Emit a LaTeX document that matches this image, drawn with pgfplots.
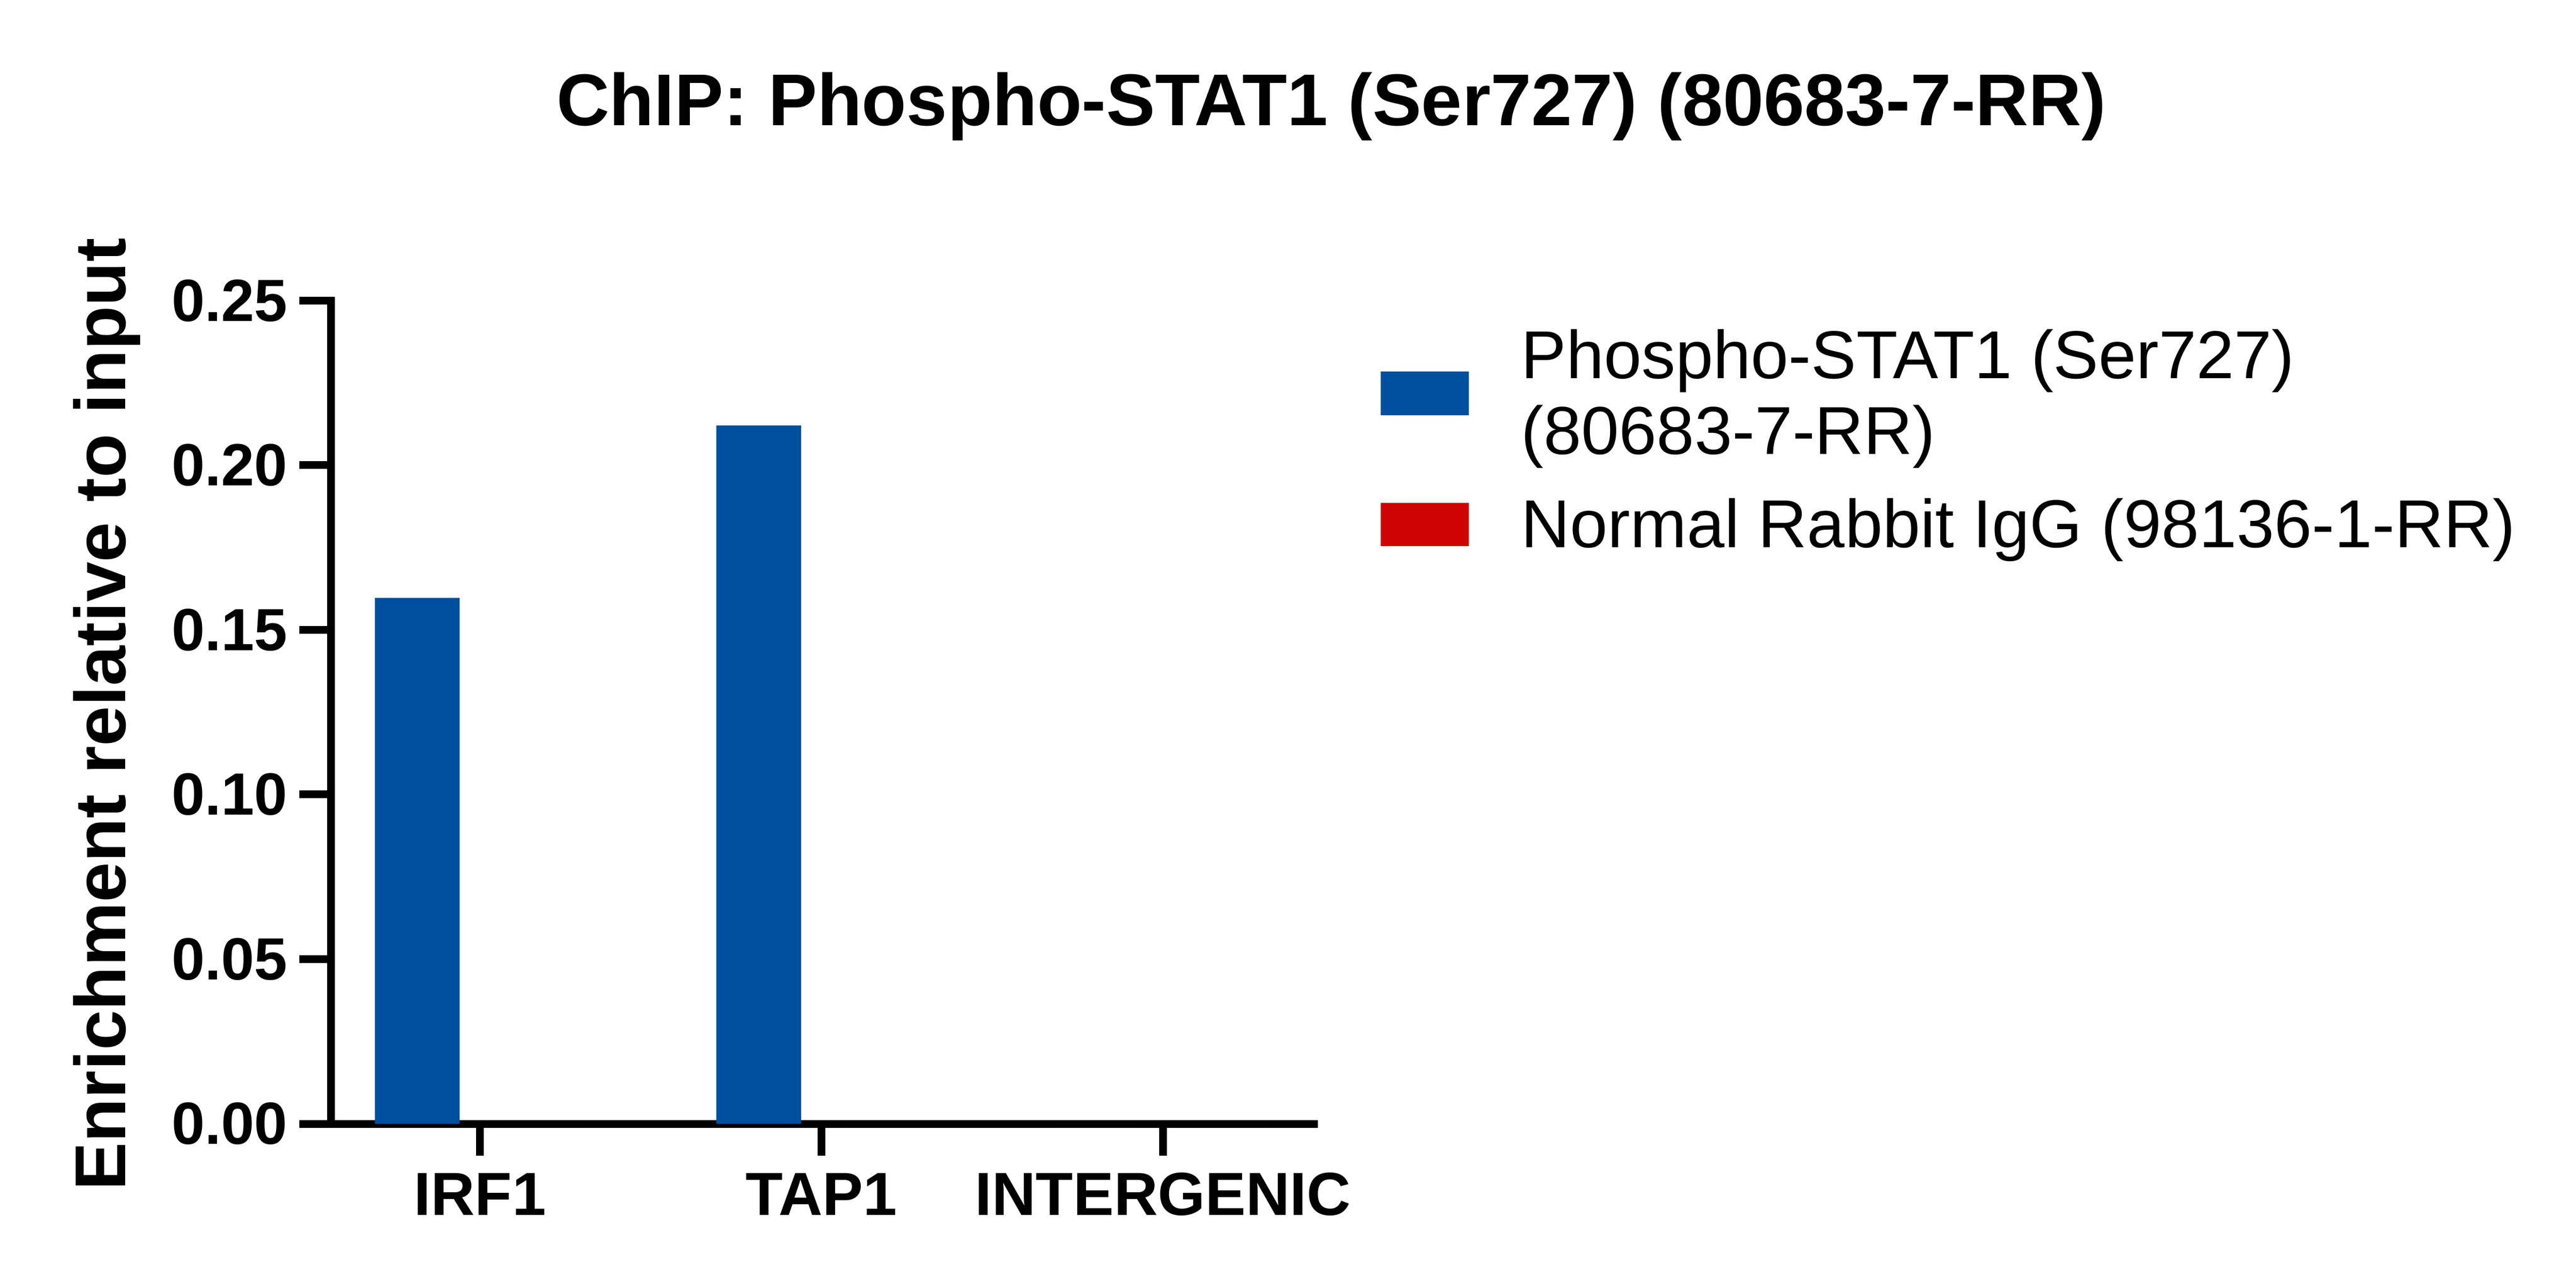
\documentclass[border=0pt]{standalone}
\usepackage{pgfplots}
\pgfplotsset{compat=1.18}
\usepackage{fontspec}
\setmainfont{Liberation Sans}
\definecolor{pblue}{RGB}{0,80,160}
\definecolor{pred}{RGB}{206,4,4}
\pgfplotsset{sqlegend/.style={legend image code/.code={\fill[##1] (0bp,-4.3bp) rectangle (26.7bp,9bp); \path (42.7bp,0bp);}}}
\begin{document}
\begin{tikzpicture}
\useasboundingbox (-100.74bp,-48.6bp) rectangle (683.2bp,341.96bp);
\begin{axis}[
  at={(0,0)}, anchor=south west,
  scale only axis, width=299.2bp, height=250.5bp,
  xmin=-0.4363, xmax=2.443, ymin=0, ymax=0.25,
  ybar=12.4bp, bar width=25.8bp,
  axis x line*=bottom, axis y line*=left,
  axis line style={line width=2.35bp, line cap=rect, black},
  every tick/.style={line width=2.35bp, black},
  xtick align=outside, ytick align=outside, major tick length=9.7bp,
  xtick pos=bottom, ytick pos=left,
  xtick={0,1,2}, xticklabels={IRF1,TAP1,INTERGENIC},
  ytick={0,0.05,0.1,0.15,0.2,0.25},
  yticklabels={0.00,0.05,0.10,0.15,0.20,0.25},
  yticklabel style={anchor=east, font=\bfseries\fontsize{18.2}{22}\selectfont},
  xticklabel style={anchor=base, yshift=-18.1bp, font=\bfseries\fontsize{18.6}{22}\selectfont},
  title={ChIP: Phospho-STAT1 (Ser727) (80683-7-RR)},
  every axis title/.style={at={(axis description cs:1.0174,1.2124)}, anchor=base, inner sep=0pt, font=\bfseries\fontsize{22.4}{26}\selectfont},
  ylabel={Enrichment relative to input},
  ylabel style={at={(axis description cs:-0.2089,0.4974)}, anchor=base, inner sep=0pt, font=\bfseries\fontsize{22}{26}\selectfont},
  legend cell align=left,
  legend style={at={(axis description cs:1.0679,0.970)}, anchor=north west, draw=none, fill=none,
    inner sep=0pt, outer sep=0pt, row sep=5.2bp,
    nodes={inner sep=0pt, outer sep=0pt, text depth={}, text height={}},
    font=\fontsize{20.7}{23.2}\selectfont},
]
\addplot[fill=pblue, draw=none, sqlegend]
  coordinates {(0,0.1597) (1,0.2121) (2,0)};
\addlegendentry{\begin{tabular}{@{}l@{}}Phospho-STAT1 (Ser727)\\(80683-7-RR)\end{tabular}}
\addplot[fill=pred, draw=none, sqlegend]
  coordinates {(0,0) (1,0) (2,0)};
\addlegendentry{\begin{tabular}{@{}l@{}}Normal Rabbit IgG (98136-1-RR)\end{tabular}}
\end{axis}
\end{tikzpicture}
\end{document}
